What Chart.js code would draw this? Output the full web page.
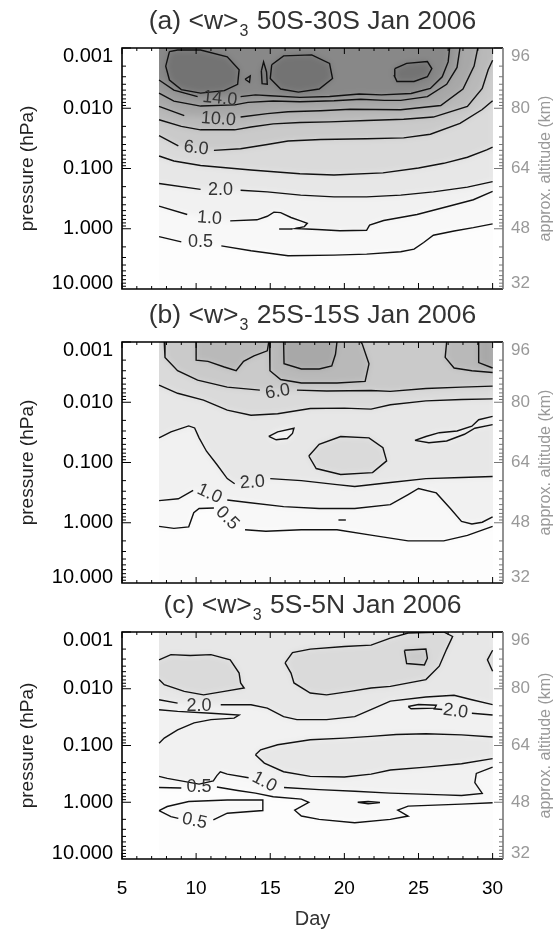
<!DOCTYPE html>
<html>
<head>
<meta charset="utf-8" />
<title>Residual vertical velocity, Jan 2006</title>
<style>
  html, body {
    width: 556px;
    height: 930px;
    margin: 0;
    padding: 0;
    background: #fff;
    overflow: hidden;
  }
  canvas { position: absolute; left: 0; }
</style>
</head>
<body>
<script src="https://cdn.jsdelivr.net/npm/chart.js@4.4.1/dist/chart.umd.min.js"></script>
<canvas id="panelA" width="556" height="300" style="top:0px"></canvas>
<canvas id="panelB" width="556" height="295" style="top:300px"></canvas>
<canvas id="panelC" width="556" height="335" style="top:595px"></canvas>

<script>
// axis limits
const DAY_MIN = 5, DAY_MAX = 30.7;
const P_TOP = 0.001, P_BOTTOM = 10;
// days covered by the analysis
const DATA_FIRST_DAY = 7.5, DATA_LAST_DAY = 30;

const dayTicks = [5, 10, 15, 20, 25, 30];
const pressureTicks = [0.001, 0.01, 0.1, 1, 10];
const pressureLabels = ['0.001', '0.010', '0.100', '1.000', '10.000'];
const altitudeTicks = [96, 80, 64, 48, 32];

const titles = [
  ['(a) <w>', '3', ' 50S-30S Jan 2006'],
  ['(b) <w>', '3', ' 25S-15S Jan 2006'],
  ['(c) <w>', '3', ' 5S-5N Jan 2006']
];

// contour lines as [day, hPa]; null leaves a gap for the contour label

// (a) 50S-30S
const a05 = [[7.5,1.35],[9.0,1.65],null,[11.7,1.92],[13.7,2.32],[16.2,2.8],[19.3,2.74],[21.5,2.64],[23.8,2.41],[24.7,2.18],[25.35,1.69],[26.0,1.28],[27.4,1.09],[28.7,0.96],[30,0.83]];
const a1 = [[7.5,0.42],[9.4,0.58],null,[12.3,0.74],[14.1,0.71],[14.8,0.62],[15.25,0.53],[15.7,0.54],[16.4,0.65],[17.05,0.74],[17.5,0.81],[17.3,0.92],[16.7,0.99],[18.2,1.03],[19.7,1.08],[21.5,1.06],[21.7,0.87],[22.65,0.73],[24.9,0.58],[27.1,0.42],[28.7,0.33],[30,0.24]];
const a1dash = [[15.6,1.01],[16.5,1.01]];
const a2 = [[7.5,0.177],[10.3,0.222],null,[13.0,0.23],[14.8,0.244],[17.05,0.277],[19.3,0.296],[21.5,0.296],[23.8,0.277],[26.0,0.244],[28.3,0.204],[30,0.165]];
const a4 = [[7.5,0.062],[8.5,0.075],[10.3,0.089],[13.7,0.106],[17.0,0.122],[19.3,0.128],[22.6,0.118],[25.0,0.098],[26.7,0.082],[28.3,0.065],[29.6,0.049],[30,0.044]];
const a6 = [[7.5,0.0285],[8.8,0.042],null,[11.2,0.050],[13.0,0.047],[14.8,0.040],[16.2,0.035],[18.4,0.033],[21.5,0.032],[24.0,0.031],[25.8,0.027],[27.8,0.0178],[29.3,0.0105],[30,0.0075]];
const a8 = [[7.5,0.0155],[9.0,0.020],[10.3,0.0228],[12.6,0.0228],[13.7,0.0205],[15.2,0.0182],[17.0,0.0172],[19.0,0.0168],[21.5,0.0160],[24.0,0.0152],[26.0,0.0140],[28.3,0.0093],[29.3,0.0047],[29.7,0.0023],[30,0.0016]];
const a10 = [[7.5,0.0093],[9.2,0.0133],null,[13.0,0.0140],[14.8,0.0123],[16.2,0.0114],[18.4,0.0110],[20.4,0.0104],[23.8,0.0106],[26.5,0.0090],[28.0,0.0048],[28.75,0.0020],[29.0,0.001]];
const a12 = [[7.5,0.0056],[8.5,0.0076],[10.3,0.0092],[12.6,0.0088],[13.5,0.0080],[15.2,0.0076],[17.0,0.0078],[19.3,0.0075],[21.1,0.0071],[22.7,0.0074],[23.8,0.0074],[25.6,0.0064],[26.9,0.0040],[27.6,0.0021],[27.8,0.001]];
const a14 = [[7.5,0.0034],[8.5,0.0050],[10.1,0.0064],null,[13.0,0.0064],[14.0,0.0060],[15.0,0.0062],[17.0,0.0066],[19.0,0.0064],[21.0,0.0058],[22.5,0.0060],[24.5,0.0057],[25.8,0.0047],[26.6,0.0030],[27.0,0.0017],[27.1,0.001]];
const a16left = [[8.2,0.00115],[8.75,0.00108],[10.3,0.00108],[12.1,0.0014],[12.9,0.0023],[12.8,0.0040],[11.9,0.0051],[10.3,0.0056],[9.0,0.0049],[8.2,0.0034],[7.95,0.0020],[8.2,0.00115]];
const a16mid = [[15.1,0.0019],[15.9,0.00135],[17.8,0.0013],[19.0,0.0018],[19.2,0.0032],[18.3,0.0048],[16.9,0.0054],[15.7,0.0048],[15.0,0.0032],[15.1,0.0019]];
const a16right = [[23.4,0.0022],[24.2,0.0018],[25.6,0.00168],[25.9,0.0022],[25.6,0.0030],[24.7,0.0036],[23.55,0.0036],[23.37,0.0029],[23.4,0.0022]];
const a16bitA = [[13.3,0.0033],[13.65,0.0029],[13.6,0.0037],[13.3,0.0033]];
const a16bitB = [[14.4,0.0024],[14.55,0.0017],[14.75,0.0025],[14.8,0.0040],[14.45,0.0039],[14.4,0.0024]];
const aLabels = [['14.0',11.6,0.0069,6],['10.0',11.5,0.0152,4],['6.0',10.0,0.046,6],['2.0',11.65,0.232,0],['1.0',10.9,0.67,4],['0.5',10.3,1.68,0]];

// (b) 25S-15S
const b05 = [[7.5,1.15],[8.5,1.24],[9.5,1.17],[9.84,0.68],[10.2,0.58],[11.2,0.57],null,[13.3,1.31],[14.7,1.38],[17.1,1.31],[19.5,1.31],[21.9,1.62],[24.3,2.0],[26.7,2.0],[28.3,1.62],[30,1.15]];
const b1 = [[7.5,0.43],[8.8,0.40],[9.8,0.29],null,[12.1,0.42],[13.5,0.46],[15.9,0.54],[18.3,0.58],[20.7,0.58],[23.1,0.50],[24.3,0.34],[25.0,0.27],[26.2,0.32],[27.15,0.58],[27.9,0.95],[28.6,1.05],[29.3,0.98],[30,0.80]];
const b1dash = [[19.6,0.9],[20.1,0.9]];
const b2 = [[7.5,0.039],[8.3,0.031],[9.5,0.0247],[9.9,0.0267],[10.2,0.039],[10.7,0.065],[11.4,0.108],[12.1,0.185],[12.6,0.225],null,[15.0,0.185],[17.1,0.2],[19.5,0.233],[20.7,0.25],[23.1,0.215],[25.5,0.185],[27.9,0.177],[30,0.171]];
const b2holeSmall = [[14.9,0.037],[15.5,0.031],[16.6,0.027],[16.5,0.033],[16.15,0.040],[15.4,0.042],[14.9,0.037]];
const b2holeRight = [[24.76,0.043],[25.7,0.047],[26.9,0.044],[28.1,0.034],[28.8,0.027],[30,0.0235],null,[30,0.0172],[29.06,0.0195],[28.6,0.025],[27.6,0.030],[26.4,0.032],[25.5,0.037],[24.76,0.043]];
const b4loop = [[17.6,0.078],[18.3,0.050],[19.75,0.037],[21.66,0.039],[22.6,0.057],[22.85,0.094],[21.9,0.147],[19.75,0.158],[18.1,0.126],[17.6,0.078]];
const b4 = [[7.5,0.0052],[8.75,0.0071],[10.5,0.0092],[12.1,0.0135],[13.7,0.0164],[15.5,0.0155],[17.7,0.0127],[20.0,0.0125],[21.8,0.0130],[23.1,0.0110],[25.5,0.0095],[27.9,0.0090],[30,0.0088]];
const b6 = [[7.85,0.001],[7.9,0.0018],[8.75,0.0030],[10.1,0.0043],[12.1,0.0056],[14.3,0.0063],null,[16.8,0.0063],[18.8,0.0065],[21.8,0.0064],[23.1,0.0066],[25.5,0.0059],[27.9,0.0056],[30,0.0054]];
const b8left = [[10.0,0.001],[10.0,0.0020],[10.8,0.0021],[11.9,0.0026],[12.7,0.0030],[13.2,0.0021],[13.9,0.0017],[14.8,0.0014],[14.9,0.001]];
const b8mid = [[14.95,0.001],[14.98,0.0030],[15.7,0.0042],[17.1,0.0048],[19.5,0.0048],[21.4,0.0045],[21.66,0.0023],[21.2,0.00107],[21.1,0.001]];
const b8right = [[26.9,0.001],[26.8,0.0018],[27.4,0.0027],[28.6,0.0030],[30,0.0032]];
const b10mid = [[15.9,0.001],[15.93,0.0023],[17.1,0.0028],[18.3,0.0028],[19.15,0.0025],[19.4,0.0016],[19.5,0.001]];
const b10right = [[29.06,0.001],[29.06,0.0022],[30,0.0027]];
const bLabels = [['6.0',15.5,0.0067,-10],['2.0',13.8,0.215,-4],['1.0',10.9,0.33,25],['0.5',12.1,0.84,45]];

// (c) 5S-5N
const c05 = [[7.5,0.55],[9.0,0.56],null,[11.4,0.54],[12.8,0.62],[14.0,0.69],[15.2,0.80],[17.1,0.88],[17.6,1.0],[16.65,1.38],[17.1,1.75],[18.3,2.0],[20.7,2.3],[23.1,2.0],[24.3,1.75],[23.6,1.38],[24.3,1.17],[27.9,1.08],[30,1.02]];
const c05loop = [[7.5,1.40],[8.3,1.79],[8.8,1.92],null,[11.16,2.05],[12.1,1.56],[14.5,1.40],[14.5,0.91],[12.1,0.91],[9.5,0.97],[8.05,1.19],[7.5,1.40]];
const c1 = [[7.5,0.35],[8.05,0.38],[10.2,0.48],[11.16,0.42],[11.4,0.34],[11.63,0.29],[12.1,0.32],[13.54,0.37],null,[15.93,0.55],[18.3,0.60],[20.7,0.64],[23.1,0.69],[26.7,0.74],[27.9,0.76],[29.3,0.70],[28.8,0.45],[28.9,0.31],[30,0.24]];
const c1loop = [[20.9,1.0],[21.6,0.97],[22.4,1.01],[21.6,1.06],[20.9,1.0]];
const c2loop = [[14.0,0.146],[14.35,0.119],[15.5,0.097],[17.7,0.079],[20.0,0.074],[21.8,0.069],[23.5,0.064],[25.5,0.062],[27.9,0.065],[30,0.071],null,[30,0.17],[27.9,0.21],[25.5,0.24],[23.1,0.27],[21.8,0.32],[20.0,0.36],[17.7,0.35],[15.9,0.29],[14.6,0.204],[14.0,0.146]];
const c2 = [[7.5,0.0156],[8.75,0.0179],null,[11.66,0.0191],[13.7,0.0191],[14.8,0.022],[15.9,0.031],[16.8,0.035],[18.8,0.035],[20.7,0.031],[22.1,0.0215],[23.1,0.0165],[25.5,0.0140],[27.4,0.0130],[28.6,0.0156],[30,0.019]];
const c2right = [[26.0,0.0225],[26.6,0.0232],null,[28.6,0.027],[30,0.029]];
const c2small = [[24.3,0.0205],[25.0,0.019],[26.2,0.0195],[26.1,0.022],[24.5,0.0225],[24.3,0.0205]];
const c2tongue = [[7.5,0.0234],[8.75,0.025],[11.0,0.027],[12.9,0.029],[12.56,0.033],[11.0,0.035],[9.86,0.040],[8.75,0.053],[7.85,0.074],[7.5,0.091]];
const c4left = [[7.5,0.0031],[8.3,0.0025],[9.6,0.0026],[11.0,0.0025],[12.3,0.0031],[12.9,0.0053],[13.0,0.0079],[13.24,0.0097],[11.9,0.0111],[10.5,0.0128],[9.2,0.0111],[7.85,0.0085],[7.5,0.0069]];
const c4mid = [[16.0,0.0035],[16.5,0.0023],[17.7,0.0020],[20.0,0.0018],[21.8,0.0017],[23.1,0.00128],[24.3,0.00104],[26.7,0.0010],[27.3,0.0012],[26.9,0.0020],[26.4,0.0040],[25.5,0.0069],[23.1,0.0091],[21.8,0.0097],[20.4,0.0111],[18.8,0.0128],[17.7,0.0119],[16.6,0.0079],[16.4,0.0053],[16.0,0.0035]];
const c4right = [[30,0.0021],[29.65,0.0031],[30,0.0049]];
const c6 = [[24.05,0.0021],[25.5,0.0020],[25.6,0.0029],[25.4,0.0038],[24.2,0.0036],[24.05,0.0021]];
const cLabels = [['2.0',10.2,0.020,0],['2.0',27.5,0.025,8],['1.0',14.6,0.44,28],['0.5',10.2,0.53,0],['0.5',9.9,2.15,12]];

// grey shade filled above each contour level
const levelShades = {
  '0.5': '#f8f8f8', '1': '#f1f1f1', '2': '#e7e7e7', '4': '#dadada', '6': '#cacaca',
  '8': '#b9b9b9', '10': '#a8a8a8', '12': '#989898', '14': '#888888', '16': '#737373'
};
const BASE_SHADE = '#fdfdfd';
const SHADE_BLUR = 3;
const FONT = '"Liberation Sans", Arial, Helvetica, sans-serif';

const panels = [
  {
    canvas: 'panelA', plotTop: 48, plotBottom: 289, title: titles[0], labels: aLabels, days: false,
    contours: [
      {pts: a05, shade: 0.5, close: 'top'},
      {pts: a1, shade: 1, close: 'top'},
      {pts: a1dash},
      {pts: a2, shade: 2, close: 'top'},
      {pts: a4, shade: 4, close: 'top'},
      {pts: a6, shade: 6, close: 'top'},
      {pts: a8, shade: 8, close: 'top'},
      {pts: a10, shade: 10, close: 'topLeft'},
      {pts: a12, shade: 12, close: 'topLeft'},
      {pts: a14, shade: 14, close: 'topLeft'},
      {pts: a16left, shade: 16},
      {pts: a16mid, shade: 16},
      {pts: a16right, shade: 16},
      {pts: a16bitA, shade: 16},
      {pts: a16bitB, shade: 16}
    ]
  },
  {
    canvas: 'panelB', plotTop: 42, plotBottom: 283, title: titles[1], labels: bLabels, days: false,
    contours: [
      {pts: b05, shade: 0.5, close: 'top'},
      {pts: b1, shade: 1, close: 'top'},
      {pts: b1dash},
      {pts: b2, shade: 2, close: 'top'},
      {pts: b2holeSmall, shade: 0.5},
      {pts: b2holeRight, shade: 1},
      {pts: b4loop, shade: 4},
      {pts: b4, shade: 4, close: 'top'},
      {pts: b6, shade: 6, close: 'topRight'},
      {pts: b8left, shade: 8},
      {pts: b8mid, shade: 8},
      {pts: b8right, shade: 8, close: 'topRight'},
      {pts: b10mid, shade: 10},
      {pts: b10right, shade: 10, close: 'topRight'}
    ]
  },
  {
    canvas: 'panelC', plotTop: 37, plotBottom: 264, title: titles[2], labels: cLabels, days: true,
    contours: [
      {pts: c05, shade: 0.5, close: 'top'},
      {pts: c05loop, shade: 0.5},
      {pts: c1, shade: 1, close: 'top'},
      {pts: c1loop},
      {pts: c2loop, shade: 2},
      {pts: c2, shade: 2, close: 'top'},
      {pts: c2right},
      {pts: c2small},
      {pts: c2tongue},
      {pts: c4left, shade: 4},
      {pts: c4mid, shade: 4},
      {pts: c4right, shade: 4},
      {pts: c6, shade: 6}
    ]
  }
];

const closers = {
  top: [[DATA_LAST_DAY, P_TOP], [DATA_FIRST_DAY, P_TOP]],
  topLeft: [[DATA_FIRST_DAY, P_TOP]],
  topRight: [[DATA_LAST_DAY, P_TOP]]
};

const toPoint = p => (p ? {x: p[0], y: p[1]} : {x: null, y: null});

// fills the shaded bands under the contour lines, inside the analysed days.
// The bands are painted off-screen, their edges are stretched outwards and the
// result is softened so the grey steps blend like the gridded field does.
const shadePlugin = {
  id: 'shade',
  beforeDatasetsDraw(chart) {
    const {ctx, chartArea, scales: {x}} = chart;
    const left = Math.round(x.getPixelForValue(DATA_FIRST_DAY));
    const right = Math.round(x.getPixelForValue(DATA_LAST_DAY));
    const top = chartArea.top, bottom = chartArea.bottom;
    const w = right - left, h = bottom - top;

    const off = document.createElement('canvas');
    off.width = chart.canvas.width;
    off.height = chart.canvas.height;
    const o = off.getContext('2d');
    o.fillStyle = BASE_SHADE;
    o.fillRect(left, top, w, h);
    chart.data.datasets.forEach((ds, i) => {
      if (!ds.shade) return;
      const pts = chart.getDatasetMeta(i).data;
      o.beginPath();
      pts.forEach((pt, k) => (k ? o.lineTo(pt.x, pt.y) : o.moveTo(pt.x, pt.y)));
      o.closePath();
      o.fillStyle = ds.shade;
      o.fill();
    });
    const pad = 12;
    o.drawImage(off, left, top, w, 1, left, top - pad, w, pad);
    o.drawImage(off, left, bottom - 1, w, 1, left, bottom, w, pad);
    o.drawImage(off, left, top - pad, 1, h + 2 * pad, left - pad, top - pad, pad, h + 2 * pad);
    o.drawImage(off, right - 1, top - pad, 1, h + 2 * pad, right, top - pad, pad, h + 2 * pad);

    ctx.save();
    ctx.beginPath();
    ctx.rect(left, top, w, h);
    ctx.clip();
    ctx.filter = 'blur(' + SHADE_BLUR + 'px)';
    ctx.drawImage(off, 0, 0);
    ctx.restore();
  }
};

function drawTitle(ctx, parts, cx, baseline) {
  const big = '26.5px ' + FONT, small = '16px ' + FONT;
  ctx.font = big;
  const w0 = ctx.measureText(parts[0]).width;
  const w2 = ctx.measureText(parts[2]).width;
  ctx.font = small;
  const w1 = ctx.measureText(parts[1]).width + 2;
  const x0 = cx - (w0 + w1 + w2) / 2;
  ctx.textAlign = 'left';
  ctx.textBaseline = 'alphabetic';
  ctx.fillStyle = '#333';
  ctx.font = big;
  ctx.fillText(parts[0], x0, baseline);
  ctx.font = small;
  ctx.fillText(parts[1], x0 + w0 + 1, baseline + 7);
  ctx.font = big;
  ctx.fillText(parts[2], x0 + w0 + w1, baseline);
}

// axes box with inward ticks, labels and titles
function framePlugin(panel) {
  return {
    id: 'frame',
    afterDatasetsDraw(chart) {
      const {ctx, chartArea: a, scales: {x, y, alt}} = chart;
      ctx.save();

      // contour labels
      ctx.font = '18px ' + FONT;
      ctx.fillStyle = '#333';
      ctx.textAlign = 'center';
      ctx.textBaseline = 'middle';
      panel.labels.forEach(([text, day, p, rot]) => {
        ctx.save();
        ctx.translate(x.getPixelForValue(day), y.getPixelForValue(p));
        ctx.rotate(rot * Math.PI / 180);
        ctx.fillText(text, 0, 0);
        ctx.restore();
      });

      // ticks
      ctx.lineWidth = 1;
      ctx.strokeStyle = '#000';
      ctx.beginPath();
      for (let d = DAY_MIN; d <= DATA_LAST_DAY; d++) {
        const px = x.getPixelForValue(d);
        const len = d % 5 === 0 ? 6 : 3;
        ctx.moveTo(px, a.bottom); ctx.lineTo(px, a.bottom - len);
        ctx.moveTo(px, a.top); ctx.lineTo(px, a.top + len);
      }
      for (let e = -3; e <= 0; e++) {
        for (let m = 1; m <= 9; m++) {
          const py = y.getPixelForValue(m * Math.pow(10, e));
          const len = m === 1 ? 9 : 4;
          ctx.moveTo(a.left, py); ctx.lineTo(a.left + len, py);
        }
      }
      ctx.stroke();
      ctx.strokeStyle = '#777';
      ctx.beginPath();
      for (let e = -3; e <= 0; e++) {
        for (let m = 1; m <= 9; m++) {
          const py = y.getPixelForValue(m * Math.pow(10, e));
          const len = m === 1 ? 9 : 4;
          ctx.moveTo(a.right, py); ctx.lineTo(a.right - len, py);
        }
      }
      ctx.stroke();

      // box
      ctx.lineWidth = 1.6;
      ctx.strokeStyle = '#000';
      ctx.beginPath();
      ctx.moveTo(a.right, a.top); ctx.lineTo(a.left, a.top);
      ctx.lineTo(a.left, a.bottom); ctx.lineTo(a.right, a.bottom);
      ctx.stroke();
      ctx.strokeStyle = '#777';
      ctx.beginPath();
      ctx.moveTo(a.right, a.top); ctx.lineTo(a.right, a.bottom);
      ctx.stroke();

      // pressure labels (left) and altitude labels (right)
      const clampY = py => Math.min(Math.max(py, a.top + 8), a.bottom - 6);
      ctx.textBaseline = 'middle';
      ctx.font = '20px ' + FONT;
      ctx.fillStyle = '#000';
      ctx.textAlign = 'right';
      pressureTicks.forEach((p, i) => {
        ctx.fillText(pressureLabels[i], a.left - 9, clampY(y.getPixelForValue(p)));
      });
      ctx.font = '17px ' + FONT;
      ctx.fillStyle = '#999';
      ctx.textAlign = 'left';
      altitudeTicks.forEach(km => {
        ctx.fillText(String(km), a.right + 8, clampY(alt.getPixelForValue(km)));
      });

      // axis titles
      const midY = (a.top + a.bottom) / 2;
      ctx.textAlign = 'center';
      ctx.save();
      ctx.translate(28, midY);
      ctx.rotate(-Math.PI / 2);
      ctx.font = '19px ' + FONT;
      ctx.fillStyle = '#222';
      ctx.fillText('pressure (hPa)', 0, 0);
      ctx.restore();
      ctx.save();
      ctx.translate(546, midY);
      ctx.rotate(-Math.PI / 2);
      ctx.font = '16px ' + FONT;
      ctx.fillStyle = '#999';
      ctx.fillText('approx. altitude (km)', 0, 0);
      ctx.restore();

      drawTitle(ctx, panel.title, (a.left + a.right) / 2, a.top - 19);

      if (panel.days) {
        ctx.font = '19px ' + FONT;
        ctx.fillStyle = '#000';
        ctx.textAlign = 'center';
        ctx.textBaseline = 'middle';
        dayTicks.forEach(d => ctx.fillText(String(d), x.getPixelForValue(d), a.bottom + 30));
        ctx.font = '20px ' + FONT;
        ctx.fillStyle = '#333';
        ctx.fillText('Day', (a.left + a.right) / 2, a.bottom + 60);
      }
      ctx.restore();
    }
  };
}

panels.forEach(panel => {
  const canvas = document.getElementById(panel.canvas);
  const fills = panel.contours
    .filter(c => c.shade !== undefined)
    .map(c => ({
      data: c.pts.filter(Boolean).concat(closers[c.close] || []).map(toPoint),
      shade: levelShades[String(c.shade)],
      showLine: false,
      pointRadius: 0,
      pointHoverRadius: 0
    }));
  const lines = panel.contours.map(c => ({
    data: c.pts.map(toPoint),
    showLine: true,
    borderColor: '#111',
    borderWidth: 1.4,
    pointRadius: 0,
    pointHoverRadius: 0,
    spanGaps: false,
    tension: 0
  }));

  new Chart(canvas, {
    type: 'scatter',
    data: {datasets: fills.concat(lines)},
    options: {
      responsive: false,
      animation: false,
      events: [],
      layout: {
        padding: {left: 122, right: 53, top: panel.plotTop, bottom: canvas.height - panel.plotBottom}
      },
      plugins: {legend: {display: false}, tooltip: {enabled: false}},
      scales: {
        x: {type: 'linear', min: DAY_MIN, max: DAY_MAX, display: false},
        y: {type: 'logarithmic', min: P_TOP, max: P_BOTTOM, reverse: true, display: false},
        alt: {type: 'linear', position: 'right', min: 32, max: 96, display: false}
      }
    },
    plugins: [shadePlugin, framePlugin(panel)]
  });
});
</script>
</body>
</html>
